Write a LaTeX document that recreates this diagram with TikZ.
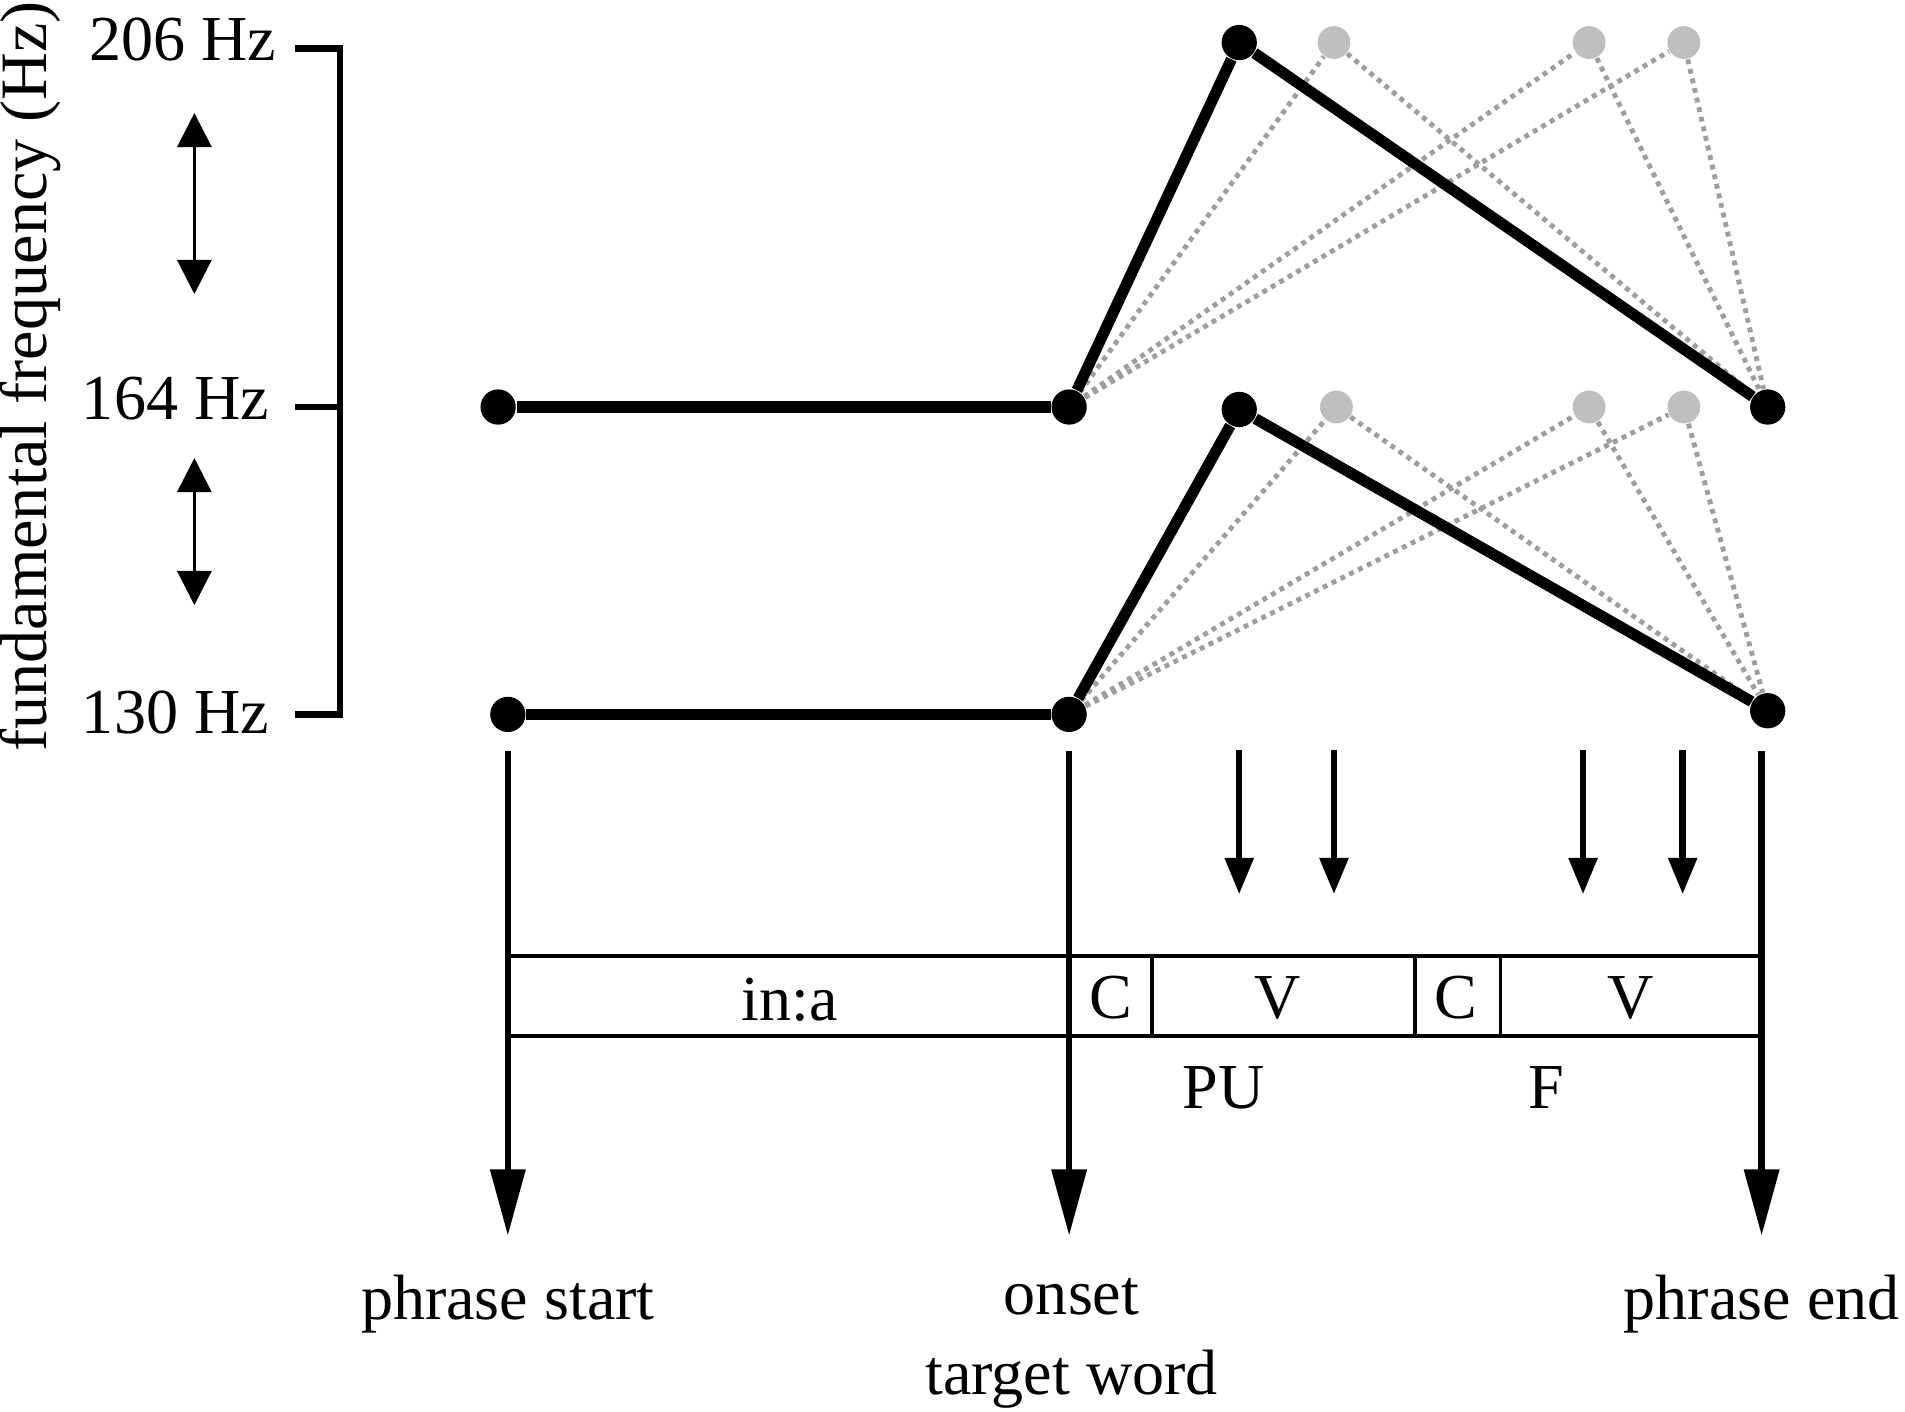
\documentclass[tikz,border=0pt]{standalone}
\usepackage{fontspec}
\setmainfont{Liberation Serif}
\usetikzlibrary{arrows.meta}

\def\ghostgray{black!25}
\def\dotgray{black!38}
\tikzstyle{knot}=[circle,fill=black,inner sep=0pt,minimum size=0.29cm]
\tikzstyle{ghost}=[circle,fill=\ghostgray,inner sep=0pt,minimum size=0.27cm]
\tikzstyle{contour}=[line width=2.6pt]
\tikzstyle{gedge}=[color=\dotgray,line width=1.15pt,dash pattern=on 1.15pt off 1.15pt]
\tikzstyle{lbl}=[font=\fontsize{15}{18}\selectfont,inner sep=0pt,anchor=base]
\tikzstyle{scaleline}=[line width=1.5pt]
\tikzstyle{rangearrow}=[line width=0.7pt,{Triangle[width=8pt,length=8pt]}-{Triangle[width=8pt,length=8pt]}]
\tikzstyle{landmark}=[line width=1.5pt,-{Triangle[width=8pt,length=15.5pt]}]
\tikzstyle{target}=[line width=1.5pt,-{Triangle[width=6.5pt,length=8.5pt]}]
\tikzstyle{segline}=[line width=0.9pt]

\begin{document}
\begin{tikzpicture}[x=0.01cm,y=-0.01cm]
  \useasboundingbox (0,0) rectangle (1568,1162);

  % Frequency scale
  \node[lbl,rotate=90] (axis) at (38,310) {\fontsize{15.5}{18}\selectfont fundamental frequency (Hz)};
  \node[lbl,anchor=base east] (f206) at (228,50) {206 Hz};
  \node[lbl,anchor=base east] (f164) at (222,345) {164 Hz};
  \node[lbl,anchor=base east] (f130) at (222,604) {130 Hz};
  \coordinate (t206) at (243,40);
  \coordinate (t164) at (243,335);
  \coordinate (t130) at (243,588);
  \coordinate (b206) at (280,40);
  \coordinate (b164) at (280,335);
  \coordinate (b130) at (280,588);
  \draw[scaleline] (t206) -- (b206) -- (b130) -- (t130);
  \draw[scaleline] (t164) -- (b164);

  \coordinate (r1a) at (160,93);
  \coordinate (r1b) at (160,242);
  \coordinate (r2a) at (160,377);
  \coordinate (r2b) at (160,498);
  \draw[rangearrow] (r1a) -- (r1b);
  \draw[rangearrow] (r2a) -- (r2b);

  % High contour
  \node[ghost] (hg1) at (1098,35) {};
  \node[ghost] (hg2) at (1308,35) {};
  \node[ghost] (hg3) at (1386,35) {};
  \node[knot] (hs) at (410,335) {};
  \node[knot] (ho) at (880,335) {};
  \node[knot] (hp) at (1020,35) {};
  \node[knot] (he) at (1455,335) {};

  \foreach \g in {hg1,hg2,hg3} {
    \path[gedge] (ho) edge (\g);
    \path[gedge] (\g) edge (he);
  }
  \path[contour] (hs) edge (ho);
  \path[contour] (ho) edge (hp);
  \path[contour] (hp) edge (he);

  % Low contour
  \node[ghost] (lg1) at (1100,335) {};
  \node[ghost] (lg2) at (1308,335) {};
  \node[ghost] (lg3) at (1386,335) {};
  \node[knot] (ls) at (418,588) {};
  \node[knot] (lo) at (880,588) {};
  \node[knot] (lp) at (1020,337) {};
  \node[knot] (le) at (1455,585) {};

  \foreach \g in {lg1,lg2,lg3} {
    \path[gedge] (lo) edge (\g);
    \path[gedge] (\g) edge (le);
  }
  \path[contour] (ls) edge (lo);
  \path[contour] (lo) edge (lp);
  \path[contour] (lp) edge (le);

  % Landmarks
  \coordinate (sa) at (418,618);
  \coordinate (sb) at (418,1017);
  \coordinate (oa) at (880,618);
  \coordinate (ob) at (880,1017);
  \coordinate (ea) at (1450,618);
  \coordinate (eb) at (1450,1017);
  \draw[landmark] (sa) -- (sb);
  \draw[landmark] (oa) -- (ob);
  \draw[landmark] (ea) -- (eb);

  \foreach \x [count=\i] in {1020,1098,1303,1385} {
    \coordinate (ma\i) at (\x,617);
    \coordinate (mb\i) at (\x,736);
    \draw[target] (ma\i) -- (mb\i);
  }

  % Segments
  \coordinate (segtl) at (418,787);
  \coordinate (segtr) at (1450,787);
  \coordinate (segbl) at (418,853);
  \coordinate (segbr) at (1450,853);
  \draw[segline] (segtl) -- (segtr);
  \draw[segline] (segbl) -- (segbr);
  \foreach \x in {948,1165,1235} {
    \draw[segline] (\x,787) -- (\x,853);
  }
  \node[lbl] (ina) at (650,840) {in:a};
  \node[lbl] (c1) at (914,838) {C};
  \node[lbl] (v1) at (1052,838) {V};
  \node[lbl] (c2) at (1198,838) {C};
  \node[lbl] (v2) at (1342,838) {V};
  \node[lbl] (pu) at (1007,912) {PU};
  \node[lbl] (fin) at (1273,912) {F};

  \node[lbl] (start) at (418,1086) {phrase start};
  \node[lbl] (onset) at (882,1082) {onset};
  \node[lbl] (tword) at (882,1148) {target word};
  \node[lbl] (pend) at (1450,1086) {phrase end};
\end{tikzpicture}
\end{document}
